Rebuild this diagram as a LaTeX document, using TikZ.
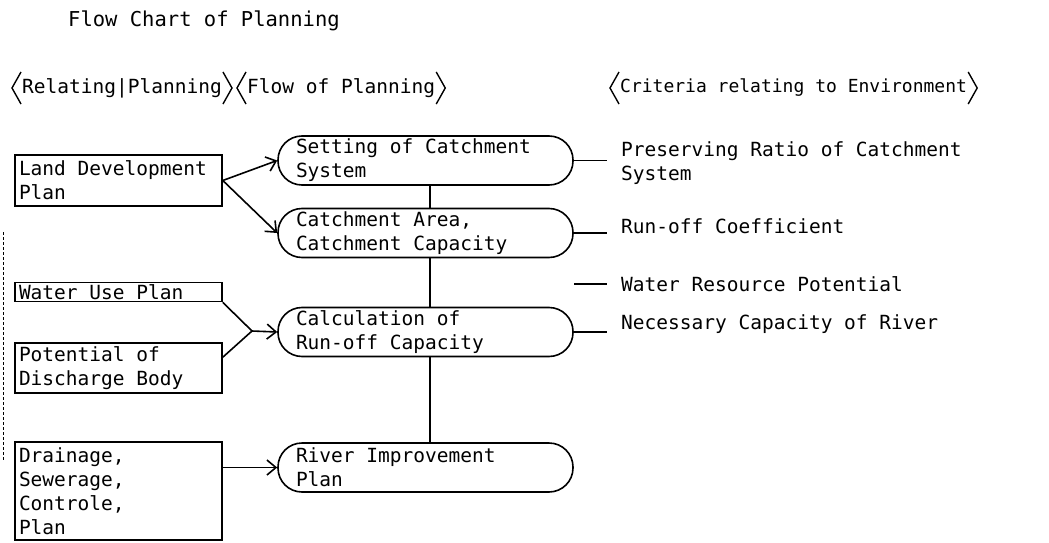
\documentclass[tikz,border=0pt]{standalone}
\usepackage{fontspec}
\setmainfont{DejaVu Sans Mono}[WordSpace={1,0,0}]
\usetikzlibrary{arrows.meta,calc}
\tikzset{
  fixsp/.style={execute at begin node={\spaceskip=0pt\xspaceskip=0pt\relax}},
  box/.style={draw, line width=1.6pt, rectangle, text width=199pt, inner xsep=4pt, inner ysep=2pt, align=left, fixsp},
  flow/.style={draw, line width=1.6pt, rounded corners=24pt, text width=259pt, inner xsep=18pt, inner ysep=2pt, minimum height=49pt, align=left, fixsp},
  link/.style={line width=1.6pt},
  arr/.style={line width=1.6pt, -{Straight Barb[length=9pt,width=15pt,line width=1.6pt]}},
  crit/.style={anchor=west, align=left, inner sep=0pt},
  head/.style={anchor=west, inner xsep=10pt, inner ysep=0pt},
  brk/.style={line width=1.4pt}
}
\begin{document}
\begin{tikzpicture}[x=1pt, y=-1pt, font=\fontsize{19.5pt}{24pt}\selectfont]
\useasboundingbox (0,0) rectangle (1049,543);

% title and headers
\node[anchor=west, inner sep=0pt, font=\fontsize{20.5pt}{24pt}\selectfont] (t) at (68,21) {Flow Chart of Planning};
\node[head] (h1) at (12,88) {Relating|Planning};
\node[head] (h2) at (237,88) {Flow of Planning};
\node[head, font=\fontsize{18pt}{22pt}\selectfont] (h3) at (610,88) {Criteria relating to Environment};
\foreach \h in {h1,h2,h3} {
  \draw[brk] ($(\h.west)+(9,-16)$) -- (\h.west) -- ($(\h.west)+(9,16)$);
  \draw[brk] ($(\h.east)+(-9,-16)$) -- (\h.east) -- ($(\h.east)+(-9,16)$);
}

% left boxes
\node[box, minimum height=51pt] (ld) at (118.5,180.5) {Land Development\\Plan};
\node[box] (wu) at (118.5,292) {Water Use Plan};
\node[box, minimum height=50pt] (po) at (118.5,368) {Potential of\\Discharge Body};
\node[box, minimum height=98pt] (dr) at (118.5,491) {Drainage,\\Sewerage,\\Controle,\\Plan};

% flow nodes
\node[flow] (set) at (425.5,160.5) {Setting of Catchment\\System};
\node[flow] (ca) at (425.5,233) {Catchment Area,\\Catchment Capacity};
\node[flow] (calc) at (425.5,332) {Calculation of\\Run-off Capacity};
\node[flow] (rv) at (425.5,467.5) {River Improvement\\Plan};

% spine
\coordinate (sp) at (430,0);
\draw[link] (sp |- set.south) -- (sp |- ca.north);
\draw[link] (sp |- ca.south) -- (sp |- calc.north);
\draw[link] (sp |- calc.south) -- (sp |- rv.north);

% criteria
\coordinate (rx) at (607,0);
\node[crit] (c1) at (621,163) {Preserving Ratio of Catchment\\System};
\node[crit] (c2) at (621,226) {Run-off Coefficient};
\node[crit] (c3) at (621,284) {Water Resource Potential};
\node[crit] (c4) at (621,324) {Necessary Capacity of River};
\draw[link] (set.east) -- (set.east -| rx);
\draw[link] (ca.east) -- (ca.east -| rx);
\draw[link] (calc.east) -- (calc.east -| rx);
\coordinate (w1) at (574,284);
\draw[link] (w1) -- (w1 -| rx);

% arrows
\draw[arr] (ld.east) -- (set.west);
\draw[arr] (ld.east) -- (ca.west);
\coordinate (j) at (252,331);
\draw[link] (wu.south east) -- (j);
\draw[link] ($(po.north east)+(0,15)$) -- (j);
\draw[arr] (j) -- (calc.west);
\draw[arr] (dr.east |- rv.west) -- (rv.west);

% faint dashed edge mark
\coordinate (d1) at (3,232);
\coordinate (d2) at (3,460);
\draw[densely dashed, line width=0.7pt] (d1) -- (d2);
\end{tikzpicture}
\end{document}
